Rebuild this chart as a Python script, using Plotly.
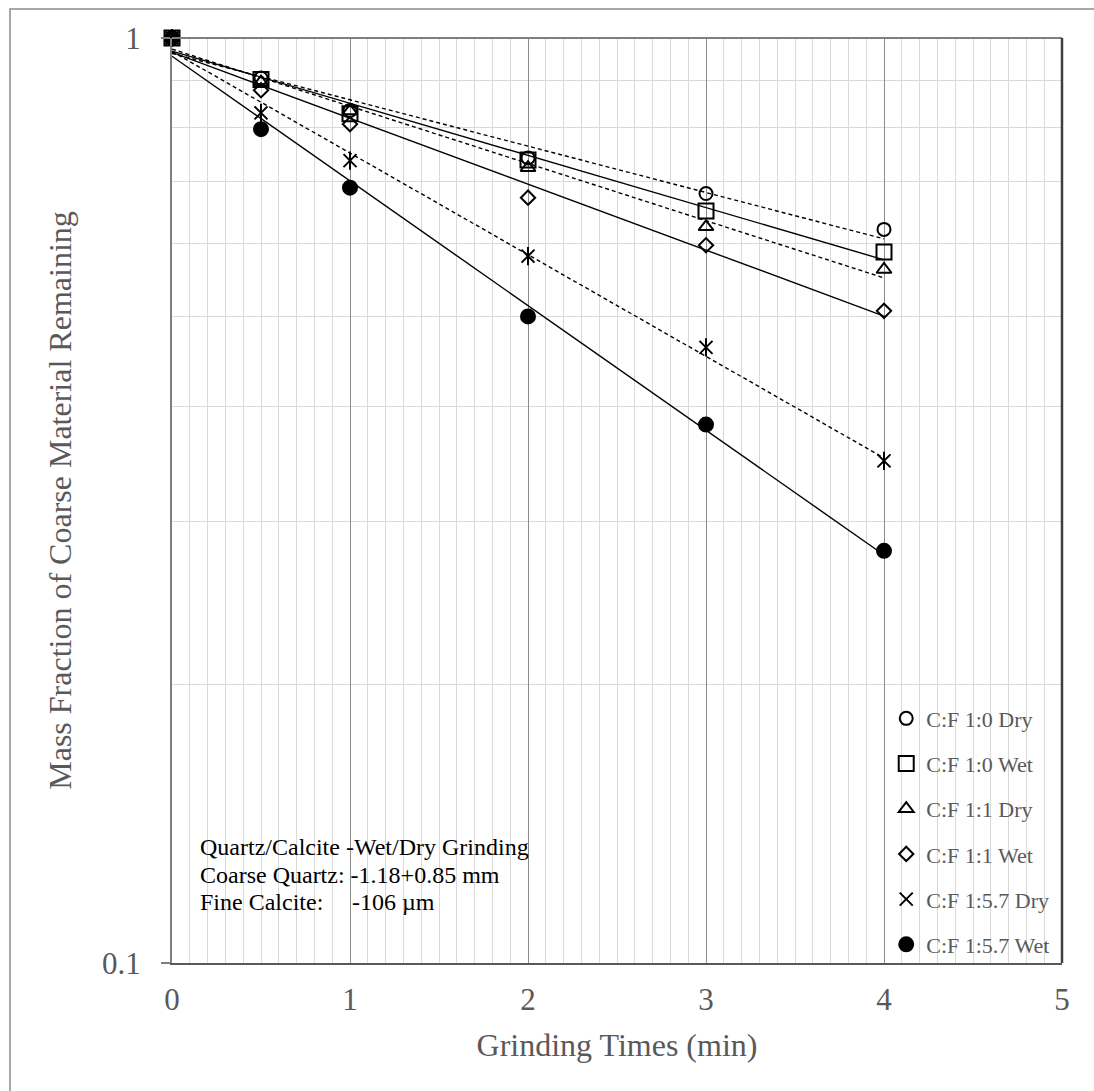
import numpy as np
import plotly.graph_objects as go

# Grinding time (min)
time_min = [0, 0.5, 1, 2, 3, 4]

# Mass fraction of coarse quartz remaining, by coarse:fine ratio and mode
cf_1_0_dry = [1.0, 0.905, 0.835, 0.742, 0.679, 0.621]
cf_1_0_wet = [1.0, 0.902, 0.828, 0.738, 0.650, 0.587]
cf_1_1_dry = [1.0, 0.896, 0.834, 0.724, 0.625, 0.562]
cf_1_1_wet = [1.0, 0.878, 0.807, 0.672, 0.597, 0.507]
cf_1_57_dry = [1.0, 0.830, 0.737, 0.581, 0.463, 0.349]
cf_1_57_wet = [1.0, 0.797, 0.689, 0.500, 0.382, 0.279]

series_names = ["C:F 1:0 Dry", "C:F 1:0 Wet", "C:F 1:1 Dry",
                "C:F 1:1 Wet", "C:F 1:5.7 Dry", "C:F 1:5.7 Wet"]
series_values = [cf_1_0_dry, cf_1_0_wet, cf_1_1_dry,
                 cf_1_1_wet, cf_1_57_dry, cf_1_57_wet]

x_tick_vals = [0, 1, 2, 3, 4, 5]
y_tick_vals = [0.1, 1]
y_tick_text = ["0.1", "1"]
y_minor_vals = [0.2, 0.3, 0.4, 0.5, 0.6, 0.7, 0.8, 0.9]

symbols = ["circle-open", "square-open", "triangle-up-open",
           "diamond-open", "x-thin-open", "circle"]
sizes = [13, 15, 13, 11, 13, 14]
dashes = ["4px,3px", "solid", "4px,3px", "solid", "4px,3px", "solid"]

FONT = "Liberation Serif, Times New Roman, serif"
GREY_TXT = "#595959"

fig = go.Figure()

# exponential trend lines (straight on the log axis)
t_fit = np.linspace(0, 4, 9)
for i, (name, vals) in enumerate(zip(series_names, series_values)):
    slope, icpt = np.polyfit(np.array(time_min), np.log(np.array(vals)), 1)
    fig.add_trace(go.Scatter(
        x=t_fit, y=np.exp(icpt + slope * t_fit), mode="lines",
        line=dict(color="black", width=1.4, dash=dashes[i]),
        showlegend=False, legendgroup=f"g{i}", hoverinfo="skip",
    ))

# measured points
for i, (name, vals) in enumerate(zip(series_names, series_values)):
    if symbols[i] == "x-thin-open":
        # vertical stroke that turns the X into a six-armed star
        fig.add_trace(go.Scatter(
            x=time_min, y=vals, mode="markers", showlegend=False,
            legendgroup=f"g{i}", cliponaxis=False, hoverinfo="skip",
            marker=dict(symbol="line-ns-open", size=13, color="black",
                        line=dict(color="black", width=2)),
        ))
    fig.add_trace(go.Scatter(
        x=time_min, y=vals, mode="markers", name=name,
        legendgroup=f"g{i}", cliponaxis=False,
        marker=dict(symbol=symbols[i], size=sizes[i], color="black",
                    line=dict(color="black", width=2)),
    ))

# notes on the materials
note_font = dict(family=FONT, size=24, color="black")
notes = [
    (0.1257, 0.029, "Quartz/Calcite -Wet/Dry Grinding"),
    (0.0951, 0.029, "Coarse Quartz: -1.18+0.85 mm"),
    (0.0663, 0.029, "Fine Calcite:"),
    (0.0663, 0.2005, "-106 µm"),
]
for yy, xx, txt in notes:
    fig.add_annotation(x=xx, y=yy, xref="paper", yref="paper", text=txt,
                       showarrow=False, xanchor="left", yanchor="middle",
                       font=note_font)

# plot-area top and right borders, and the outer chart frame
fig.add_shape(type="line", xref="paper", yref="paper", x0=0, x1=1, y0=1, y1=1,
              line=dict(color="#7f7f7f", width=2), layer="above")
fig.add_shape(type="line", xref="paper", yref="paper", x0=1, x1=1, y0=0, y1=1,
              line=dict(color="#404040", width=2.5), layer="above")
fig.add_shape(type="rect", xref="paper", yref="paper",
              x0=-0.182, x1=1.06, y0=-0.16, y1=1.0314,
              line=dict(color="#8c8c8c", width=1.5), layer="below")

fig.update_layout(
    width=1094, height=1091,
    margin=dict(l=172, r=32, t=38, b=128),
    paper_bgcolor="white", plot_bgcolor="white",
    font=dict(family=FONT, color=GREY_TXT),
    showlegend=True,
    legend=dict(
        x=0.8025, y=0.287, xanchor="left", yanchor="top",
        bgcolor="rgba(0,0,0,0)", borderwidth=0,
        font=dict(family=FONT, size=22, color=GREY_TXT),
        tracegroupgap=13.6, traceorder="grouped", itemwidth=30,
    ),
    xaxis=dict(
        range=[0, 5], tickvals=x_tick_vals, ticks="",
        ticklabelstandoff=8,
        tickfont=dict(family=FONT, size=31, color=GREY_TXT),
        showgrid=True, gridcolor="#8c8c8c", gridwidth=1,
        minor=dict(dtick=0.1, showgrid=True, gridcolor="#d9d9d9", gridwidth=1),
        showline=True, linecolor="#595959", linewidth=2,
        zeroline=False,
        title=dict(text="Grinding Times (min)",
                   font=dict(family=FONT, size=32, color=GREY_TXT),
                   standoff=17),
    ),
    yaxis=dict(
        type="log", range=[-1, 0],
        tickvals=y_tick_vals, ticktext=y_tick_text,
        ticks="outside", ticklen=9, tickcolor="#7f7f7f", tickwidth=2,
        ticklabelstandoff=14,
        tickfont=dict(family=FONT, size=31, color=GREY_TXT),
        showgrid=False,
        minor=dict(tickvals=y_minor_vals, showgrid=True,
                   gridcolor="#d9d9d9", gridwidth=1),
        showline=True, linecolor="#7f7f7f", linewidth=2,
        zeroline=False,
        title=dict(text="Mass Fraction of Coarse Material Remaining",
                   font=dict(family=FONT, size=32, color=GREY_TXT),
                   standoff=21),
    ),
)

fig.write_html("out.html")
